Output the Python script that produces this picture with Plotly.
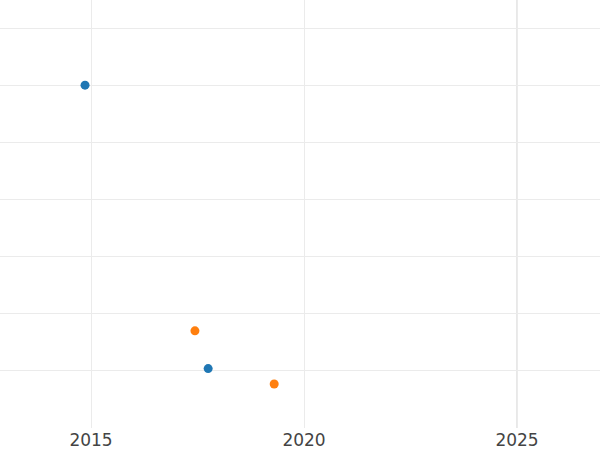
import plotly.graph_objects as go

# two series
blue_x = [2014.86, 2017.75]
blue_y = [6.0, 1.04]
orange_x = [2017.44, 2019.30]
orange_y = [1.70, 0.77]

x_ticks = [2015, 2020, 2025]

fig = go.Figure()
fig.add_trace(go.Scatter(x=blue_x, y=blue_y, mode="markers",
                         marker=dict(color="#1f77b4", size=9), name="A"))
fig.add_trace(go.Scatter(x=orange_x, y=orange_y, mode="markers",
                         marker=dict(color="#ff7f0e", size=9), name="B"))

# the heavier line at 2025
fig.add_vline(x=2025, line=dict(color="#e8e8e8", width=2), layer="below")

fig.update_layout(
    width=600, height=450,
    showlegend=False,
    plot_bgcolor="white", paper_bgcolor="white",
    margin=dict(l=0, r=0, t=0, b=22),
    font=dict(family="DejaVu Sans", size=17, color="#444"),
)
fig.update_xaxes(range=[2012.864, 2026.948], tickvals=x_ticks,
                 showgrid=True, gridcolor="#ebebeb", zeroline=False,
                 ticks="", ticklen=0)
fig.update_yaxes(range=[0, 7.49], dtick=1, showticklabels=False,
                 showgrid=True, gridcolor="#ebebeb", zeroline=False)

# drop the page's default body margin so the figure sits at the window corner
fig.write_html("out.html", config={"displayModeBar": False},
               post_script="document.body.style.margin='0';")
